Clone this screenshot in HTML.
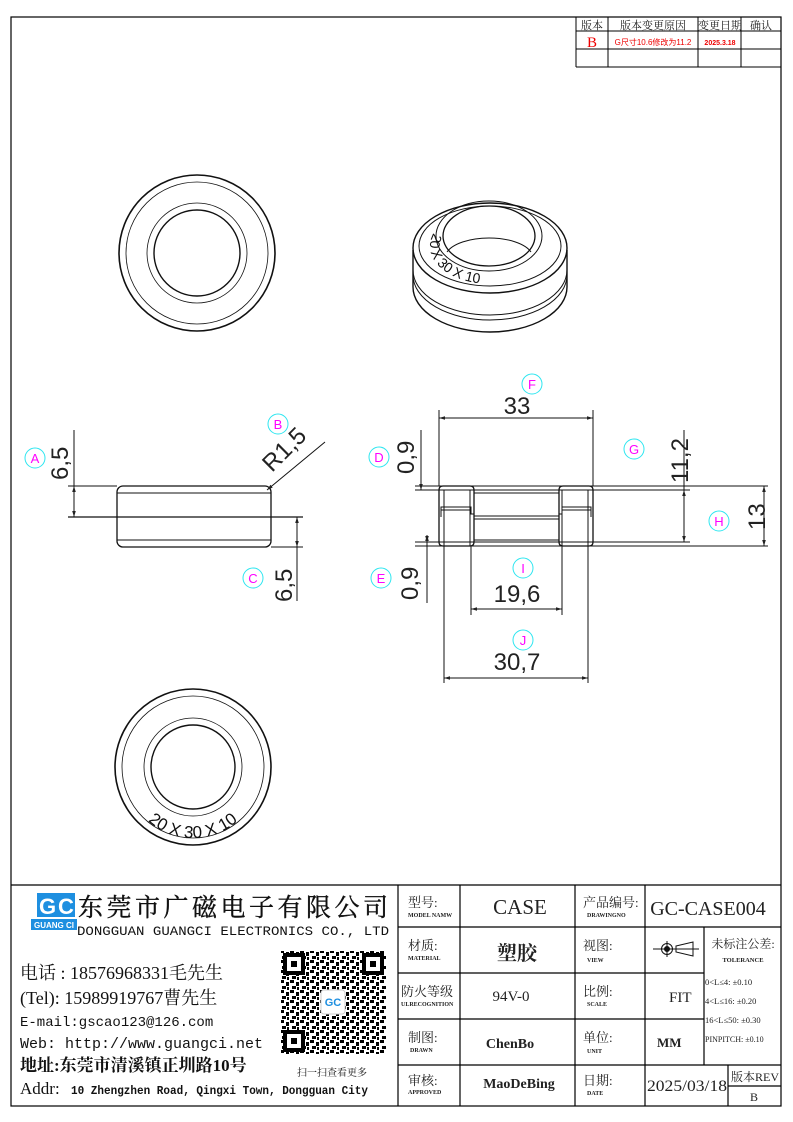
<!DOCTYPE html>
<html><head><meta charset="utf-8"><style>
html,body{margin:0;padding:0;background:#fff}
svg{display:block}
.cj{font-family:"Liberation Serif","Noto Serif CJK SC","Noto Sans CJK SC",serif}
.sn{font-family:"Liberation Sans","Noto Sans CJK SC",sans-serif}
.dim{font-family:"Liberation Sans",sans-serif;font-size:24px;fill:#222;font-weight:300}
.lbl{fill:none;stroke:#2ee6f0;stroke-width:1}
.lt{font-family:"Liberation Sans",sans-serif;font-size:13px;fill:#f0f;text-anchor:middle}
</style></head><body>
<svg width="793" height="1122" viewBox="0 0 793 1122" xmlns="http://www.w3.org/2000/svg">
<defs>
<marker id="ar" viewBox="0 0 10 10" refX="10" refY="5" markerWidth="6" markerHeight="6" orient="auto-start-reverse"><path d="M0,2 L10,5 L0,8 z" fill="#222"/></marker>
<path id="arc" d="M 133 802 A 68 68 0 0 0 253 802"/>
<path id="arc3" d="M 433.6 233 A 60 38 0 0 0 505.5 282.7"/>
<pattern id="qr" width="10" height="10" patternUnits="userSpaceOnUse">
<rect width="10" height="10" fill="#fff"/><rect x="0" y="0" width="4" height="3" fill="#000"/><rect x="6" y="2" width="3" height="4" fill="#000"/><rect x="2" y="6" width="4" height="3" fill="#000"/><rect x="7" y="7" width="2" height="3" fill="#000"/>
</pattern>
</defs>
<rect x="0" y="0" width="793" height="1122" fill="#fff"/>
<rect x="11" y="17" width="770" height="1089" fill="none" stroke="#000" stroke-width="1.2"/>
<line x1="11" y1="885" x2="781" y2="885" stroke="#000" stroke-width="1.2"/>
<g stroke="#000" stroke-width="1" fill="none">
<line x1="576" y1="17" x2="576" y2="67"/><line x1="576" y1="31" x2="781" y2="31"/><line x1="576" y1="49" x2="781" y2="49"/><line x1="576" y1="67" x2="781" y2="67"/>
<line x1="608" y1="17" x2="608" y2="67"/><line x1="698" y1="17" x2="698" y2="67"/><line x1="741" y1="17" x2="741" y2="67"/>
</g>
<g class="cj" font-size="11" text-anchor="middle" fill="#222">
<text x="592" y="29">版本</text><text x="653" y="29">版本变更原因</text><text x="720" y="29">变更日期</text><text x="761" y="29">确认</text>
<text x="592" y="47" font-size="15" fill="#e00">B</text>
<text x="653" y="45" font-size="8" fill="#e00" class="sn">G尺寸10.6修改为11.2</text>
<text x="720" y="45" font-size="7" fill="#e00" font-weight="bold" class="sn">2025.3.18</text>
</g>
<g fill="none" stroke="#111">
<circle cx="197" cy="253" r="78" stroke-width="1.6"/><circle cx="197" cy="253" r="71" stroke-width="0.8"/>
<circle cx="197" cy="253" r="50" stroke-width="0.8"/><circle cx="197" cy="253" r="43" stroke-width="1.4"/>
</g>
<g fill="none" stroke="#111" stroke-width="1">
<path d="M413,250 L413,287 A77,45 0 0 0 567,287 L567,250" stroke-width="1.4"/>
<path d="M413,270 A77,45 0 0 0 567,270"/>
<path d="M413,275 A77,45 0 0 0 567,275"/>
<ellipse cx="490" cy="248" rx="77" ry="45" stroke-width="1.4"/>
<ellipse cx="490" cy="246" rx="71" ry="40"/>
<ellipse cx="489" cy="236" rx="53" ry="35"/>
<ellipse cx="489" cy="236" rx="46" ry="30" stroke-width="1.3"/>
<path d="M447,252 A44,20 0 0 1 531,252"/>
</g>
<text font-family="Liberation Sans,sans-serif" font-size="14" fill="#111"><textPath href="#arc3">20 X 30 X 10</textPath></text>
<g fill="none" stroke="#111" stroke-width="1">
<rect x="117" y="486" width="154" height="61" rx="6" stroke-width="1.3"/>
<line x1="117" y1="493" x2="271" y2="493"/><line x1="117" y1="540" x2="271" y2="540"/>
<line x1="68" y1="486" x2="117" y2="486"/>
<line x1="68" y1="517" x2="303" y2="517" stroke-width="1.3"/>
<line x1="271" y1="547" x2="303" y2="547"/>
<line x1="74" y1="430" x2="74" y2="486"/>
<line x1="74" y1="486" x2="74" y2="517" marker-start="url(#ar)" marker-end="url(#ar)"/>
<line x1="297" y1="517" x2="297" y2="547" marker-start="url(#ar)" marker-end="url(#ar)"/>
<line x1="297" y1="547" x2="297" y2="601"/>
<line x1="325" y1="442" x2="267" y2="490" marker-end="url(#ar)"/>
</g>
<text class="dim" transform="translate(68,480) rotate(-90)">6,5</text>
<text class="dim" transform="translate(292,602) rotate(-90)">6,5</text>
<text class="dim" transform="translate(272,473) rotate(-45)">R1,5</text>
<g fill="none" stroke="#111" stroke-width="1">
<line x1="415" y1="486" x2="768" y2="486"/><line x1="415" y1="490" x2="690" y2="490"/>
<line x1="415" y1="542" x2="690" y2="542"/><line x1="415" y1="546" x2="768" y2="546"/>
<path d="M443,486 H470 Q474,486 474,490 V542 Q474,546 470,546 H443 Q439,546 439,542 V490 Q439,486 443,486 Z" stroke-width="1.3"/>
<path d="M563,486 H589 Q593,486 593,490 V542 Q593,546 589,546 H563 Q559,546 559,542 V490 Q559,486 563,486 Z" stroke-width="1.3"/>
<line x1="444" y1="490" x2="444" y2="546"/><line x1="470" y1="490" x2="470" y2="546"/>
<line x1="562" y1="490" x2="562" y2="546"/><line x1="588" y1="490" x2="588" y2="546"/>
<line x1="474" y1="493" x2="559" y2="493"/><line x1="474" y1="540" x2="559" y2="540"/>
<path d="M441,517 V507 H471 V514 H474 V516 H559 V514 H562 V507 H591 V517"/>
<path d="M441,510 H471 M562,510 H591 M474,519 H559" />
<line x1="439" y1="410" x2="439" y2="486"/><line x1="593" y1="410" x2="593" y2="486"/>
<line x1="439" y1="418" x2="593" y2="418" marker-start="url(#ar)" marker-end="url(#ar)"/>
<line x1="684" y1="430" x2="684" y2="490"/>
<line x1="684" y1="490" x2="684" y2="542" marker-start="url(#ar)" marker-end="url(#ar)"/>
<line x1="764" y1="486" x2="764" y2="546" marker-start="url(#ar)" marker-end="url(#ar)"/>
<line x1="421" y1="430" x2="421" y2="486"/><line x1="421" y1="476" x2="421" y2="490" marker-end="url(#ar)"/>
<line x1="427" y1="535" x2="427" y2="542" marker-end="url(#ar)" marker-start="url(#ar)"/><line x1="427" y1="542" x2="427" y2="603"/>
<line x1="471" y1="546" x2="471" y2="615"/><line x1="562" y1="546" x2="562" y2="615"/>
<line x1="471" y1="609" x2="562" y2="609" marker-start="url(#ar)" marker-end="url(#ar)"/>
<line x1="444" y1="546" x2="444" y2="683"/><line x1="588" y1="546" x2="588" y2="683"/>
<line x1="444" y1="678" x2="588" y2="678" marker-start="url(#ar)" marker-end="url(#ar)"/>
</g>
<text class="dim" x="517" y="414" text-anchor="middle">33</text>
<text class="dim" transform="translate(688,483) rotate(-90)">11,2</text>
<text class="dim" transform="translate(765,530) rotate(-90)">13</text>
<text class="dim" transform="translate(414,474) rotate(-90)">0,9</text>
<text class="dim" transform="translate(418,600) rotate(-90)">0,9</text>
<text class="dim" x="517" y="602" text-anchor="middle">19,6</text>
<text class="dim" x="517" y="670" text-anchor="middle">30,7</text>
<g>
<circle class="lbl" cx="35" cy="458" r="10"/><text class="lt" x="35" y="463">A</text>
<circle class="lbl" cx="278" cy="424" r="10"/><text class="lt" x="278" y="429">B</text>
<circle class="lbl" cx="253" cy="578" r="10"/><text class="lt" x="253" y="583">C</text>
<circle class="lbl" cx="379" cy="457" r="10"/><text class="lt" x="379" y="462">D</text>
<circle class="lbl" cx="381" cy="578" r="10"/><text class="lt" x="381" y="583">E</text>
<circle class="lbl" cx="532" cy="384" r="10"/><text class="lt" x="532" y="389">F</text>
<circle class="lbl" cx="634" cy="449" r="10"/><text class="lt" x="634" y="454">G</text>
<circle class="lbl" cx="719" cy="521" r="10"/><text class="lt" x="719" y="526">H</text>
<circle class="lbl" cx="523" cy="568" r="10"/><text class="lt" x="523" y="573">I</text>
<circle class="lbl" cx="523" cy="640" r="10"/><text class="lt" x="523" y="645">J</text>
</g>
<g fill="none" stroke="#111">
<circle cx="193" cy="767" r="78" stroke-width="1.6"/><circle cx="193" cy="767" r="71" stroke-width="0.8"/>
<circle cx="193" cy="767" r="49" stroke-width="0.8"/><circle cx="193" cy="767" r="42" stroke-width="1.4"/>
</g>
<text font-family="Liberation Sans,sans-serif" font-size="17" fill="#111"><textPath href="#arc" startOffset="50%" text-anchor="middle">20 X 30 X 10</textPath></text>
<rect x="37" y="893" width="22" height="24" fill="#1e8fe0"/>
<rect x="58" y="893" width="17" height="24" fill="#1e8fe0"/>
<text x="39" y="914" font-family="Liberation Sans,sans-serif" font-weight="bold" font-size="22" fill="#fff">G</text>
<text x="58" y="914" font-family="Liberation Sans,sans-serif" font-weight="bold" font-size="22" fill="#fff">C</text>
<rect x="31" y="919" width="46" height="11" fill="#1e8fe0"/>
<text x="54" y="928" font-family="Liberation Sans,sans-serif" font-weight="bold" font-size="8" fill="#fff" text-anchor="middle">GUANG CI</text>
<text x="78" y="916" class="cj" font-size="25" fill="#111" textLength="310" lengthAdjust="spacing" stroke="#111" stroke-width="0.4">东莞市广磁电子有限公司</text>
<text x="77" y="935" font-family="Liberation Mono,monospace" font-size="12.5" fill="#111" textLength="312" lengthAdjust="spacingAndGlyphs">DONGGUAN GUANGCI ELECTRONICS CO., LTD</text>
<g class="cj" fill="#111">
<text x="20" y="979" font-size="18">电话 : 18576968331毛先生</text>
<text x="20" y="1004" font-size="18">(Tel): 15989919767曹先生</text>
<text x="20" y="1026" font-size="14" font-family="Liberation Mono,monospace">E-mail:gscao123@126.com</text>
<text x="20" y="1048" font-size="15" font-family="Liberation Mono,monospace">Web: http://www.guangci.net</text>
<text x="20" y="1071" font-size="17" font-weight="bold">地址:东莞市清溪镇正圳路10号</text>
<text x="20" y="1094" font-size="17">Addr:</text>
<text x="71" y="1094" font-size="11.5" font-weight="bold" font-family="Liberation Mono,monospace" textLength="297" lengthAdjust="spacingAndGlyphs">10 Zhengzhen Road, Qingxi Town, Dongguan City</text>
<text x="297" y="1076" font-size="10">扫一扫查看更多</text>
</g>
<rect x="281" y="951" width="105" height="103" fill="url(#qr)"/>
<g fill="#fff" stroke="#000" stroke-width="4"><rect x="285" y="955" width="18" height="18"/><rect x="364" y="955" width="18" height="18"/><rect x="285" y="1032" width="18" height="18"/></g>
<g fill="#000"><rect x="291" y="961" width="6" height="6"/><rect x="370" y="961" width="6" height="6"/><rect x="291" y="1038" width="6" height="6"/></g>
<rect x="321" y="990" width="24" height="24" rx="3" fill="#fff" stroke="#ccc"/>
<text x="333" y="1006" font-family="Liberation Sans,sans-serif" font-weight="bold" font-size="11" fill="#1e8fe0" text-anchor="middle">GC</text>
<g stroke="#000" stroke-width="1.2" fill="none">
<line x1="398" y1="885" x2="398" y2="1106"/>
<line x1="460" y1="885" x2="460" y2="1106"/>
<line x1="575" y1="885" x2="575" y2="1106"/>
<line x1="645" y1="885" x2="645" y2="1106"/>
<line x1="704" y1="927" x2="704" y2="1065"/>
<line x1="398" y1="927" x2="781" y2="927"/>
<line x1="398" y1="973" x2="704" y2="973"/>
<line x1="398" y1="1019" x2="704" y2="1019"/>
<line x1="398" y1="1065" x2="781" y2="1065"/>
<line x1="728" y1="1065" x2="728" y2="1106"/>
<line x1="728" y1="1086" x2="781" y2="1086"/>
</g>
<g class="cj" fill="#222">
<text x="408" y="907" font-size="13">型号:</text><text x="408" y="917" font-size="6" font-weight="bold">MODEL NAMW</text>
<text x="520" y="914" font-size="21" text-anchor="middle">CASE</text>
<text x="583" y="907" font-size="13">产品编号:</text><text x="587" y="917" font-size="6" font-weight="bold">DRAWINGNO</text>
<text x="708" y="915" font-size="20" text-anchor="middle">GC-CASE004</text>
<text x="408" y="950" font-size="13">材质:</text><text x="408" y="960" font-size="6" font-weight="bold">MATERIAL</text>
<text x="517" y="960" font-size="20" font-weight="bold" text-anchor="middle">塑胶</text>
<text x="583" y="950" font-size="13">视图:</text><text x="587" y="962" font-size="6" font-weight="bold">VIEW</text>
<text x="401" y="996" font-size="13">防火等级</text><text x="401" y="1006" font-size="6" font-weight="bold">ULRECOGNITION</text>
<text x="511" y="1001" font-size="15" text-anchor="middle">94V-0</text>
<text x="583" y="996" font-size="13">比例:</text><text x="587" y="1006" font-size="6" font-weight="bold">SCALE</text>
<text x="669" y="1002" font-size="15">FIT</text>
<text x="408" y="1042" font-size="13">制图:</text><text x="410" y="1052" font-size="6" font-weight="bold">DRAWN</text>
<text x="510" y="1048" font-size="14" font-weight="bold" text-anchor="middle">ChenBo</text>
<text x="583" y="1042" font-size="13">单位:</text><text x="587" y="1053" font-size="6" font-weight="bold">UNIT</text>
<text x="657" y="1047" font-size="13" font-weight="bold">MM</text>
<text x="408" y="1085" font-size="13">审核:</text><text x="408" y="1094" font-size="6" font-weight="bold">APPROVED</text>
<text x="519" y="1088" font-size="14" font-weight="bold" text-anchor="middle">MaoDeBing</text>
<text x="583" y="1085" font-size="13">日期:</text><text x="587" y="1095" font-size="6" font-weight="bold">DATE</text>
<text x="647" y="1091" font-size="16" textLength="80" lengthAdjust="spacingAndGlyphs">2025/03/18</text>
<text x="731" y="1081" font-size="12">版本REV</text>
<text x="754" y="1101" font-size="12" text-anchor="middle">B</text>
<text x="743" y="948" font-size="12" text-anchor="middle">未标注公差:</text>
<text x="743" y="962" font-size="6.5" font-weight="bold" text-anchor="middle">TOLERANCE</text>
<text x="705" y="985" font-size="8.5">0&lt;L≤4: ±0.10</text>
<text x="705" y="1004" font-size="8.5">4&lt;L≤16: ±0.20</text>
<text x="705" y="1023" font-size="8.5">16&lt;L≤50: ±0.30</text>
<text x="705" y="1042" font-size="8">PINPITCH: ±0.10</text>
</g>
<g fill="none" stroke="#111" stroke-width="1">
<line x1="653" y1="949" x2="699" y2="949"/>
<circle cx="667" cy="949" r="5.5"/><circle cx="667" cy="949" r="2.5" fill="#111"/>
<line x1="667" y1="941" x2="667" y2="957"/>
<path d="M676,946 L693,942 L693,956 L676,952 Z"/>
</g>
</svg>
</body></html>
